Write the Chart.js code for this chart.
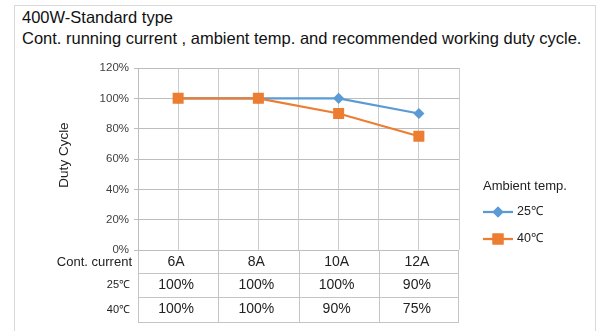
<!DOCTYPE html>
<html>
<head>
<meta charset="utf-8">
<script src="https://cdn.jsdelivr.net/npm/chart.js@4"></script>
<style>
  body { margin: 0; background: #fff; }
  #wrap { position: relative; width: 596px; height: 331px; overflow: hidden; }
  #frame { position: absolute; left: 14px; top: 5px; width: 580px; height: 340px; border: 1px solid #d9d9d9; }
  #title { position: absolute; left: 22px; top: 7px; font: 16.5px "Liberation Sans", Arial, sans-serif; line-height: 21px; color: #111; white-space: nowrap; }
  canvas { position: absolute; left: 0; top: 0; }
</style>
</head>
<body>
<div id="wrap">
  <div id="frame"></div>
  <div id="title">400W-Standard type<br>Cont. running current , ambient temp. and recommended working duty cycle.</div>
  <canvas id="myChart" width="596" height="331"></canvas>
</div>
<script>
let categories = ["6A", "8A", "10A", "12A"]
let seriesNames = ["25℃", "40℃"]
let duty25 = [100, 100, 100, 90]
let duty40 = [100, 100, 90, 75]
let colorHex = ["#5b9bd5", "#ed7d31"]
let font = '"Liberation Sans", Arial, sans-serif'

// legend + data table under the plot, both drawn off the chart's own scales
let extras = {
  id: "extras",
  afterDraw(chart) {
    let ctx = chart.ctx
    let a = chart.chartArea
    let x = chart.scales.x
    ctx.save()

    // axis title
    ctx.save()
    ctx.translate(64, (a.top + a.bottom) / 2 - 4)
    ctx.rotate(-Math.PI / 2)
    ctx.fillStyle = "#222"
    ctx.font = "13.5px " + font
    ctx.textAlign = "center"
    ctx.textBaseline = "middle"
    ctx.fillText("Duty Cycle", 0, 0)
    ctx.restore()

    // data table
    let rows = [a.bottom, a.bottom + 23, a.bottom + 47, a.bottom + 72]
    ctx.strokeStyle = "#c4c4c4"
    ctx.lineWidth = 1
    ctx.beginPath()
    for (let i = 1; i < rows.length; i++) {
      let y = Math.round(rows[i]) + 0.5
      ctx.moveTo(a.left, y)
      ctx.lineTo(a.right, y)
    }
    for (let i = 0; i <= categories.length; i++) {
      let px = Math.round(x.getPixelForValue(i - 0.5)) + 0.5
      if (i == 0) px = Math.round(a.left) + 0.5
      if (i == categories.length) px = Math.round(a.right) - 0.5
      ctx.moveTo(px, rows[0])
      ctx.lineTo(px, rows[3])
    }
    ctx.stroke()

    ctx.textBaseline = "middle"
    ctx.fillStyle = "#222"
    ctx.textAlign = "right"
    ctx.font = "13px " + font
    ctx.fillText("Cont. current", 132, (rows[0] + rows[1]) / 2 + 1)
    ctx.font = "11px " + font
    ctx.fillText(seriesNames[0], 130, (rows[1] + rows[2]) / 2)
    ctx.fillText(seriesNames[1], 130, (rows[2] + rows[3]) / 2)

    ctx.textAlign = "center"
    ctx.font = "14px " + font
    categories.forEach((c, i) => {
      let cx = x.getPixelForValue(i) - 2
      ctx.fillText(c, cx, (rows[0] + rows[1]) / 2 + 1)
      ctx.fillText(duty25[i] + "%", cx, (rows[1] + rows[2]) / 2)
      ctx.fillText(duty40[i] + "%", cx, (rows[2] + rows[3]) / 2)
    })

    // legend
    ctx.textAlign = "left"
    ctx.font = "13px " + font
    ctx.fillText("Ambient temp.", 483, 186)
    chart.data.datasets.forEach((ds, i) => {
      let y = 212 + i * 27
      ctx.strokeStyle = ds.borderColor
      ctx.lineWidth = 2.25
      ctx.beginPath()
      ctx.moveTo(483, y)
      ctx.lineTo(513, y)
      ctx.stroke()
      Chart.helpers.drawPoint(ctx, {pointStyle: ds.pointStyle, radius: ds.pointRadius, borderWidth: 1}, 498, y)
      ctx.fillStyle = ds.borderColor
      ctx.strokeStyle = ds.borderColor
      ctx.fill()
      ctx.stroke()
      ctx.fillStyle = "#222"
      ctx.font = "12.5px " + font
      ctx.fillText(ds.label, 517, y)
    })
    ctx.restore()
  }
}

let ctx = document.getElementById("myChart").getContext("2d")
let myChart = new Chart(ctx, {
  type: "line",
  data: {
    labels: categories,
    datasets: [
      {
        label: seriesNames[0],
        data: duty25,
        borderColor: colorHex[0],
        backgroundColor: colorHex[0],
        borderWidth: 2.25,
        pointStyle: "rectRot",
        pointRadius: 4,
        order: 1,
      },
      {
        label: seriesNames[1],
        data: duty40,
        borderColor: colorHex[1],
        backgroundColor: colorHex[1],
        borderWidth: 2.25,
        pointStyle: "rect",
        pointRadius: 6.2,
        order: 0,
      },
    ],
  },
  options: {
    responsive: false,
    animation: false,
    devicePixelRatio: 1,
    layout: { padding: { left: 0, right: 137, top: 68, bottom: 81 } },
    plugins: { legend: { display: false }, tooltip: { enabled: false } },
    scales: {
      x: { display: false, offset: true },
      xg: {
        type: "linear",
        position: "bottom",
        min: -0.5,
        max: 3.5,
        ticks: { display: false, stepSize: 0.5 },
        grid: { color: "#cccccc", drawTicks: false },
        border: { display: false },
        afterFit(s) { s.height = 0 },
      },
      y: {
        min: 0,
        max: 120,
        ticks: {
          stepSize: 20,
          padding: 5,
          color: "#404040",
          font: { family: font, size: 11.5 },
          callback: (v) => v + "%",
        },
        grid: { color: "#bdbdbd", tickLength: 4 },
        border: { color: "#bdbdbd" },
        afterFit(s) { s.width = 138 },
      },
    },
  },
  plugins: [extras],
})
</script>
</body>
</html>
